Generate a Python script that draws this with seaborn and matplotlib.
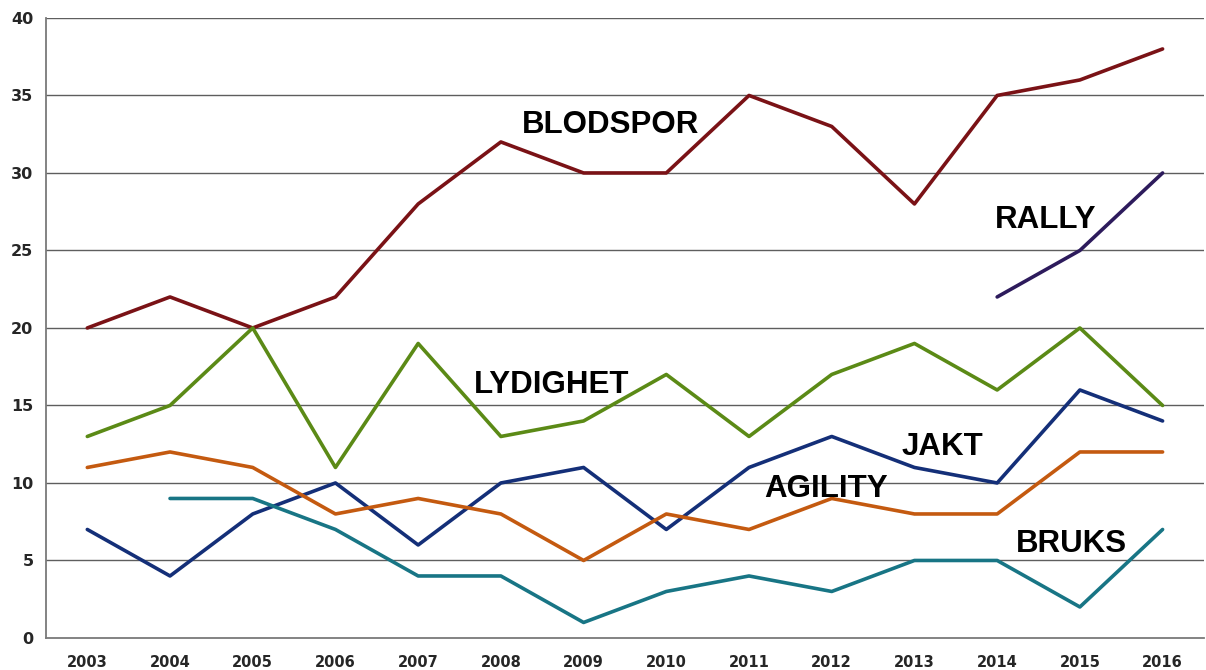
import pandas as pd
import numpy as np
import matplotlib.pyplot as plt
import seaborn as sns

# data
years = list(range(2003, 2017))
blodspor = [20, 22, 20, 22, 28, 32, 30, 30, 35, 33, 28, 35, 36, 38]
rally = [None] * 11 + [22, 25, 30]
lydighet = [13, 15, 20, 11, 19, 13, 14, 17, 13, 17, 19, 16, 20, 15]
jakt = [7, 4, 8, 10, 6, 10, 11, 7, 11, 13, 11, 10, 16, 14]
agility = [11, 12, 11, 8, 9, 8, 5, 8, 7, 9, 8, 8, 12, 12]
bruks = [None, 9, 9, 7, 4, 4, 1, 3, 4, 3, 5, 5, 2, 7]

series_names = ["BLODSPOR", "RALLY", "LYDIGHET", "JAKT", "AGILITY", "BRUKS"]
series_values = [blodspor, rally, lydighet, jakt, agility, bruks]
colors = ["#7a1216", "#2d1b5c", "#5b8a16", "#142f78", "#c45a10", "#187585"]

# label positions (category index, baseline value)
label_pos = {
    "BLODSPOR": (6.33, 32.6),
    "RALLY": (11.59, 26.45),
    "LYDIGHET": (5.61, 15.8),
    "JAKT": (10.34, 11.8),
    "AGILITY": (8.93, 9.1),
    "BRUKS": (11.90, 5.55),
}

rows = []
for name, vals in zip(series_names, series_values):
    for y, v in zip(years, vals):
        if v is not None:
            rows.append({"year": y, "value": v, "series": name})
df = pd.DataFrame(rows)

sns.set_style("white")
plt.rcParams['font.family'] = ['DejaVu Sans']

fig = plt.figure(figsize=(12.06, 6.70), dpi=100)
ax = fig.add_axes([0.0381, 0.0478, 0.9602, 0.9254])

# horizontal grid lines
for g in range(5, 45, 5):
    ax.axhline(g, color="#5e5e5e", linewidth=1.0, zorder=0)

sns.lineplot(data=df, x="year", y="value", hue="series", hue_order=series_names,
             palette=dict(zip(series_names, colors)), linewidth=2.6,
             legend=False, ax=ax, zorder=3)

for name in series_names:
    xi, yb = label_pos[name]
    ax.text(years[0] + xi, yb, name, ha="center", va="baseline",
            fontsize=22.5, fontweight="bold", family=["Liberation Sans", "DejaVu Sans"],
            color="black", zorder=4)

ax.set_xlim(2002.5, 2016.5)
ax.set_ylim(0, 40)
ax.set_yticks(range(0, 45, 5))
ax.set_xticks(years)
ax.set_xticklabels([str(y) for y in years], fontsize=10.5, fontweight="bold")
ax.set_xticks(np.arange(2002.5, 2017, 1.0), minor=True)
ax.tick_params(axis="x", which="major", length=0, pad=12)
ax.tick_params(axis="x", which="minor", length=6, width=1.2, color="#7a7a7a", direction="out")
ax.tick_params(axis="y", length=5, width=1.2, color="#7a7a7a", direction="out", labelsize=11.5, pad=4)
for lab in ax.get_yticklabels():
    lab.set_fontweight("bold")
ax.set_xlabel("")
ax.set_ylabel("")

for side in ["top", "right"]:
    ax.spines[side].set_visible(False)
for side in ["left", "bottom"]:
    ax.spines[side].set_color("#7a7a7a")
    ax.spines[side].set_linewidth(1.3)

plt.savefig("out.png", dpi=100)
plt.close()
